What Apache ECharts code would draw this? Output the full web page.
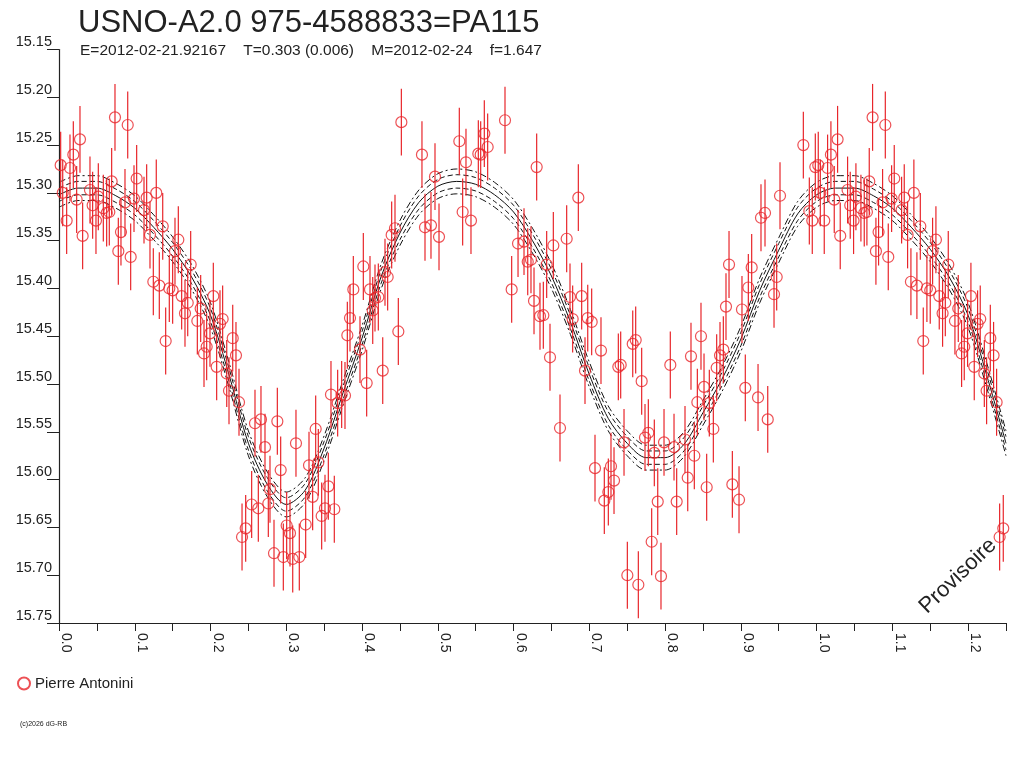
<!DOCTYPE html>
<html style="height: 100%">
<head>
<meta charset="utf-8">
<title>USNO-A2.0 975-4588833=PA115</title>
<script src="https://fastly.jsdelivr.net/npm/echarts@6/dist/echarts.min.js"></script>
</head>
<body style="height: 100%; margin: 0; background: #fff">
<div id="target" style="width: 1024px; height: 768px"></div>
<script>
const observations = [
    [0.0022,15.271],[0.0049,15.300],[0.0101,15.329],[0.0145,15.274],[0.0189,15.260],[0.0233,15.307],
    [0.0277,15.244],[0.0312,15.345],[0.0409,15.297],[0.0444,15.313],[0.0488,15.329],[0.0519,15.304],
    [0.0585,15.316],[0.0629,15.321],[0.0664,15.320],[0.0695,15.288],[0.0739,15.221],[0.0783,15.361],
    [0.0818,15.341],[0.0871,15.310],[0.0907,15.229],[0.0946,15.367],[0.0990,15.306],[0.1025,15.285],
    [0.1122,15.318],[0.1157,15.305],[0.1201,15.344],[0.1245,15.393],[0.1284,15.300],[0.1324,15.397],
    [0.1369,15.335],[0.1408,15.455],[0.1456,15.400],[0.1500,15.402],[0.1531,15.361],[0.1575,15.349],
    [0.1619,15.408],[0.1663,15.426],[0.1699,15.415],[0.1738,15.375],[0.1826,15.434],[0.1870,15.421],
    [0.1914,15.468],[0.1949,15.461],[0.1993,15.447],[0.2037,15.408],[0.2081,15.482],[0.2125,15.437],
    [0.2160,15.432],[0.2214,15.489],[0.2293,15.452],[0.2336,15.470],
    [0.2244,15.507],[0.2376,15.519],[0.2587,15.541],[0.2666,15.537],[0.2882,15.539],[0.2719,15.566],
    [0.3128,15.562],[0.2926,15.590],[0.2785,15.610],[0.2543,15.626],[0.2631,15.630],[0.2763,15.625],
    [0.2464,15.651],[0.2416,15.660],[0.3005,15.648],[0.3049,15.656],[0.2838,15.677],[0.2961,15.681],
    [0.3085,15.683],[0.3172,15.681],
    [0.4519,15.226],[0.4791,15.260],[0.4963,15.283],[0.5284,15.246],[0.5372,15.268],[0.5535,15.259],
    [0.5566,15.260],[0.5614,15.238],[0.5658,15.252],[0.5887,15.224],[0.6305,15.273],[0.4831,15.336],
    [0.4910,15.334],[0.5016,15.346],[0.4435,15.337],[0.4391,15.344],[0.5328,15.320],[0.5438,15.329],
    [0.6059,15.353],[0.6138,15.351],[0.6187,15.372],[0.6230,15.370],[0.6437,15.375],[0.5975,15.401],
    [0.6270,15.413],[0.6349,15.429],[0.6393,15.428],[0.6481,15.472],[0.4338,15.388],[0.4303,15.383],
    [0.4017,15.377],[0.3885,15.401],[0.4105,15.401],[0.4215,15.409],[0.4171,15.410],[0.4141,15.423],
    [0.3841,15.431],[0.3806,15.449],[0.4479,15.445],[0.3973,15.464],[0.4273,15.486],
    [0.4061,15.499],[0.3590,15.511],[0.3731,15.511],[0.3775,15.512],[0.3678,15.520],[0.3388,15.547],
    [0.3300,15.585],[0.3423,15.582],[0.3348,15.618],[0.3555,15.607],[0.3511,15.630],[0.3467,15.638],
    [0.3634,15.631],[0.3256,15.647],
    [0.6855,15.305],[0.6525,15.355],[0.6701,15.348],[0.6745,15.409],[0.6899,15.408],[0.6780,15.432],
    [0.6979,15.431],[0.7031,15.435],[0.7154,15.465],[0.7573,15.458],[0.7612,15.454],[0.6943,15.486],
    [0.7383,15.482],[0.7414,15.480],[0.8069,15.480],[0.8342,15.471],[0.8474,15.450],[0.8681,15.483],
    [0.8725,15.470],[0.8769,15.464],[0.8804,15.419],[0.8844,15.375],[0.9015,15.422],[0.9099,15.399],
    [0.9143,15.378],[0.9266,15.326],[0.9319,15.321],[0.9473,15.388],[0.9438,15.406],[0.9517,15.303],
    [0.9825,15.250],[0.9904,15.319],[0.9943,15.329],[0.9983,15.273],
    [0.7691,15.497],[0.8514,15.503],[0.9059,15.504],[0.9227,15.514],[0.9355,15.537],[0.6613,15.546],
    [0.8426,15.519],[0.8584,15.520],[0.8637,15.547],[0.7458,15.561],[0.7735,15.556],[0.7779,15.551],
    [0.7858,15.572],[0.7986,15.561],[0.8118,15.566],[0.8263,15.558],[0.8386,15.575],[0.7075,15.588],
    [0.7286,15.586],[0.7326,15.601],[0.7251,15.613],[0.7198,15.622],[0.8299,15.598],[0.8549,15.608],
    [0.7903,15.623],[0.8153,15.623],[0.8888,15.605],[0.8976,15.621],[0.7823,15.665],[0.7502,15.700],
    [0.7647,15.710],[0.7946,15.701],
];
const errorBar = 0.035;

// fitted light curve and its uncertainty envelope
const fitPhase = [0,0.025,0.05,0.075,0.1,0.125,0.15,0.175,0.2,0.225,0.25,0.275,0.3,0.325,0.35,0.375,0.4,0.425,0.45,0.475,
    0.5,0.525,0.55,0.575,0.6,0.625,0.65,0.675,0.7,0.725,0.75,0.775,0.8,0.825,0.85,0.875,0.9,0.925,0.95,0.975,1];
const fitMag = [15.302,15.295,15.295,15.303,15.316,15.336,15.359,15.388,15.428,15.492,15.562,15.605,15.626,15.611,15.567,
    15.509,15.452,15.388,15.342,15.310,15.293,15.288,15.291,15.302,15.320,15.350,15.387,15.435,15.490,15.536,15.562,
    15.577,15.577,15.563,15.530,15.495,15.453,15.402,15.360,15.322,15.302];
const fitUpperOuter = [15.289,15.282,15.282,15.290,15.303,15.323,15.346,15.375,15.415,15.479,15.549,15.592,15.613,15.598,15.554,
    15.496,15.439,15.375,15.329,15.297,15.280,15.275,15.278,15.289,15.307,15.337,15.374,15.422,15.477,15.523,15.549,
    15.564,15.564,15.550,15.517,15.482,15.440,15.389,15.347,15.309,15.289];
const fitUpperInner = [15.295,15.288,15.288,15.296,15.309,15.329,15.352,15.381,15.421,15.485,15.555,15.598,15.619,15.604,15.560,
    15.502,15.445,15.381,15.335,15.303,15.286,15.281,15.284,15.295,15.313,15.343,15.380,15.428,15.483,15.529,15.555,
    15.570,15.570,15.556,15.523,15.488,15.446,15.395,15.353,15.315,15.295];
const fitLowerInner = [15.309,15.302,15.302,15.310,15.323,15.343,15.366,15.395,15.435,15.499,15.569,15.612,15.633,15.618,15.574,
    15.516,15.459,15.395,15.349,15.317,15.300,15.295,15.298,15.309,15.327,15.357,15.394,15.442,15.497,15.543,15.569,
    15.584,15.584,15.570,15.537,15.502,15.460,15.409,15.367,15.329,15.309];
const fitLowerOuter = [15.315,15.308,15.308,15.316,15.329,15.349,15.372,15.401,15.441,15.505,15.575,15.618,15.639,15.624,15.580,
    15.522,15.465,15.401,15.355,15.323,15.306,15.301,15.304,15.315,15.333,15.363,15.400,15.448,15.503,15.549,15.575,
    15.590,15.590,15.576,15.543,15.508,15.466,15.415,15.373,15.335,15.315];

const titleText = "USNO-A2.0 975-4588833=PA115";
const subText = "E=2012-02-21.92167    T=0.303 (0.006)    M=2012-02-24    f=1.647";
const observer = "Pierre Antonini";

const RED = "#e8262b";
const INK = "#222";
const FONT = "'Liberation Sans', Arial, sans-serif";

let chart = echarts.init(document.getElementById('target'));

// phases up to 0.25 are shown again after 1.0
let Fold = (pts, from) => pts.concat(pts.filter(p => p[0] > from && p[0] <= 0.25).map(p => [p[0] + 1, p[1]]));

let obsShown = Fold(observations, -1);
let Curve = (mags) => Fold(fitPhase.map((p, i) => [p, mags[i]]), 0);

let CurveSeries = (mags, type) => ({
    type: "line",
    data: Curve(mags),
    showSymbol: false,
    smooth: 0.3,
    silent: true,
    lineStyle: { color: "#111", width: 1, type: type },
    z: 3,
});

let option = {
    animation: false,
    backgroundColor: "#fff",
    textStyle: { fontFamily: FONT, color: INK },
    title: [
        {
            text: titleText,
            left: 73, top: 3,
            textStyle: { fontSize: 31, fontWeight: "normal", color: INK, fontFamily: FONT },
        },
        {
            text: subText,
            left: 75, top: 38,
            textStyle: { fontSize: 15.5, fontWeight: "normal", color: INK, fontFamily: FONT },
        },
    ],
    legend: {
        data: [{ name: observer, icon: "circle" }],
        left: 17, top: 676, padding: 0,
        itemWidth: 12, itemHeight: 12, itemGap: 5,
        textStyle: { fontSize: 15, color: INK, fontFamily: FONT },
    },
    grid: { left: 59, right: 18, top: 49.5, bottom: 145, containLabel: false },
    xAxis: {
        type: "value",
        min: 0, max: 1.25, interval: 0.05,
        axisLine: { lineStyle: { color: INK, width: 1.2 } },
        axisTick: { length: 8, lineStyle: { color: INK } },
        axisLabel: {
            rotate: -90, margin: 10, fontSize: 14, color: INK, fontFamily: FONT,
            verticalAlign: "bottom",
            formatter: (v) => (Math.round(v * 100) % 10 === 0 ? v.toFixed(1) : ""),
        },
        splitLine: { show: false },
    },
    yAxis: {
        type: "value",
        inverse: true,
        min: 15.15, max: 15.75, interval: 0.05,
        axisLine: { show: true, lineStyle: { color: INK, width: 1.2 } },
        axisTick: { show: true, length: 12, lineStyle: { color: INK } },
        axisLabel: {
            margin: 7, fontSize: 14.5, color: INK, fontFamily: FONT, verticalAlign: "bottom",
            formatter: (v) => v.toFixed(2),
        },
        splitLine: { show: false },
    },
    series: [
        CurveSeries(fitUpperOuter, [7, 3, 2, 3]),
        CurveSeries(fitUpperInner, [5, 3]),
        CurveSeries(fitMag, "solid"),
        CurveSeries(fitLowerInner, [5, 3]),
        CurveSeries(fitLowerOuter, [7, 3, 2, 3]),
        {
            // error bars
            type: "custom",
            data: obsShown,
            encode: { x: 0, y: 1 },
            silent: true,
            z: 4,
            renderItem: (params, api) => {
                let p = api.value(0);
                let m = api.value(1);
                let a = api.coord([p, m - errorBar]);
                let b = api.coord([p, m + errorBar]);
                return {
                    type: "line",
                    shape: { x1: a[0], y1: a[1], x2: b[0], y2: b[1] },
                    style: { stroke: RED, lineWidth: 1.2 },
                };
            },
        },
        {
            name: observer,
            type: "scatter",
            data: obsShown,
            symbol: "circle",
            symbolSize: 11,
            itemStyle: { color: "rgba(255,255,255,0)", borderColor: RED, borderWidth: 1.2 },
            z: 5,
        },
    ],
    graphic: [
        {
            type: "text",
            x: 958, y: 576,
            rotation: 44 * Math.PI / 180,
            style: {
                text: "Provisoire",
                font: "22px " + FONT,
                fill: INK,
                align: "center",
                verticalAlign: "middle",
            },
        },
        {
            type: "text",
            left: 20, top: 721,
            style: { text: "(c)2026 dG-RB", font: "7px " + FONT, fill: INK },
        },
    ],
};

chart.setOption(option);
</script>
</body>
</html>
